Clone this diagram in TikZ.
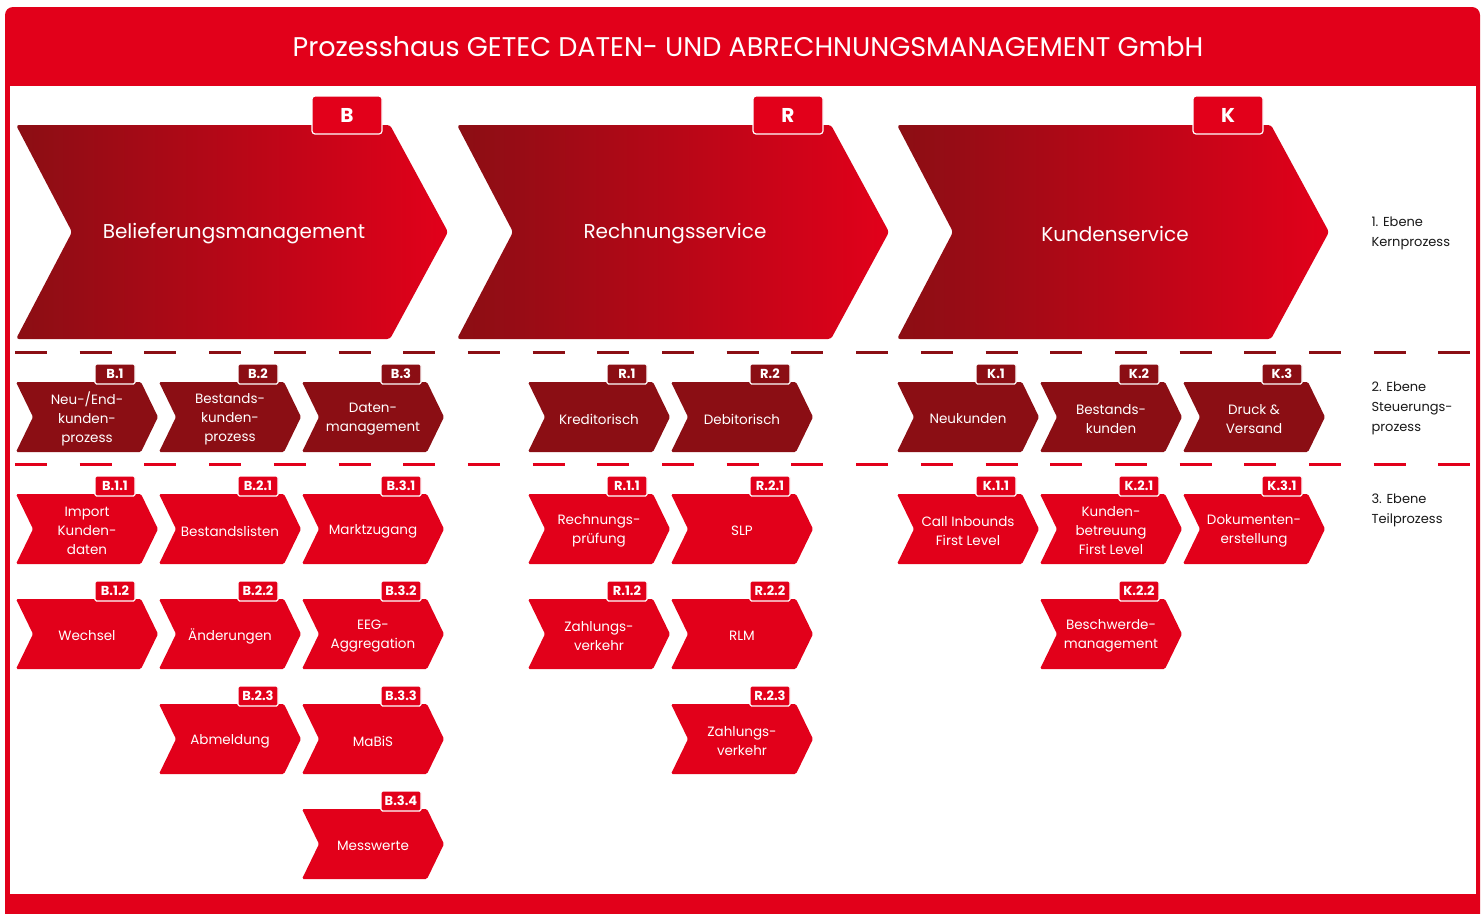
\documentclass[tikz,border=0pt]{standalone}
\usepackage{fontspec}
\setmainfont{Poppins}
\usepackage{tikz}
\usetikzlibrary{positioning}
\definecolor{getecred}{HTML}{E2001A}
\definecolor{getecdark}{HTML}{8B0E14}

\begin{document}
\begin{tikzpicture}[x=1pt, y=-1pt,
    kern/.style = {text=white, font=\fontsize{20}{24}\selectfont},
    schritt/.style = {text=white, align=center, font=\fontsize{13.5}{19}\selectfont},
    tagbox/.style = {draw=white, line width=1.2pt, text=white, minimum width=40pt, minimum height=20pt, inner sep=0pt, rounded corners=1.5pt, font=\bfseries\fontsize{13}{14}\selectfont},
    bigtag/.style = {tagbox, minimum width=70pt, minimum height=38pt, rounded corners=3pt, font=\bfseries\fontsize{20}{22}\selectfont},
    ebene/.style = {align=left, anchor=west, text=black!90, font=\fontsize{13}{20}\selectfont},
    trenner/.style = {line width=3pt, dash pattern=on 32pt off 32.7pt}
]
\useasboundingbox (0,0) rectangle (1483,913);
\fill[getecred, rounded corners=8pt] (5,7) rectangle (1480,930);
\fill[white] (10,86) rectangle (1476,894);
\node (titel) [text=white, font=\fontsize{27}{30}\selectfont] at (748,47) {Prozesshaus GETEC DATEN- UND ABRECHNUNGSMANAGEMENT GmbH};

\foreach \n/\x/\t/\txt in {beliefer/16/B/Belieferungsmanagement, rechnung/457/R/Rechnungsservice, kunden/897/K/Kundenservice} {
    \shade[left color=getecdark, right color=getecred, rounded corners=3pt] (\x,125) -- (\x+374,125) -- (\x+432,232) -- (\x+374,339) -- (\x,339) -- (\x+56,232) -- cycle;
    \node (\n) [kern] at (\x+218,234) {\txt};
    \node (\n-tag) [bigtag, fill=getecred] at (\x+331,115) {\t};
}

\draw[trenner, getecdark] (15,352) -- (1470,352);
\draw[trenner, getecred] (15,464) -- (1470,464);

\foreach \n/\x/\t/\txt in {b1/16/B.1/{Neu-\slash End-\\kunden-\\prozess}, b2/159/B.2/{Bestands-\\kunden-\\prozess}, b3/302/B.3/{Daten-\\management},
        r1/528/R.1/Kreditorisch, r2/671/R.2/Debitorisch,
        k1/897/K.1/Neukunden, k2/1040/K.2/{Bestands-\\kunden}, k3/1183/K.3/{Druck \&\\Versand}} {
    \fill[getecdark, rounded corners=1.5pt] (\x,382) -- (\x+125,382) -- (\x+142,417) -- (\x+125,452) -- (\x,452) -- (\x+17,417) -- cycle;
    \node (\n) [schritt] at (\x+71,419) {\txt};
    \node (\n-tag) [tagbox, fill=getecdark] at (\x+99,374) {\t};
}

\foreach \n/\x/\y/\t/\txt in {b11/16/494/B.1.1/{Import\\Kunden-\\daten}, b12/16/599/B.1.2/Wechsel,
        b21/159/494/B.2.1/Bestandslisten, b22/159/599/B.2.2/Änderungen, b23/159/704/B.2.3/Abmeldung,
        b31/302/494/B.3.1/Marktzugang, b32/302/599/B.3.2/{EEG-\\Aggregation}, b33/302/704/B.3.3/MaBiS, b34/302/809/B.3.4/Messwerte,
        r11/528/494/R.1.1/{Rechnungs-\\prüfung}, r12/528/599/R.1.2/{Zahlungs-\\verkehr},
        r21/671/494/R.2.1/SLP, r22/671/599/R.2.2/RLM, r23/671/704/R.2.3/{Zahlungs-\\verkehr},
        k11/897/494/K.1.1/{Call Inbounds\\First Level},
        k21/1040/494/K.2.1/{Kunden-\\betreuung\\First Level}, k22/1040/599/K.2.2/{Beschwerde-\\management},
        k31/1183/494/K.3.1/{Dokumenten-\\erstellung}} {
    \fill[getecred, rounded corners=1.5pt] (\x,\y) -- (\x+125,\y) -- (\x+142,\y+35) -- (\x+125,\y+70) -- (\x,\y+70) -- (\x+17,\y+35) -- cycle;
    \node (\n) [schritt] at (\x+71,\y+37) {\txt};
    \node (\n-tag) [tagbox, fill=getecred] at (\x+99,\y-8) {\t};
}

\node (ebene1) [ebene] at (1368,233) {1. Ebene\\Kernprozess};
\node (ebene2) [ebene] at (1368,408) {2. Ebene\\Steuerungs-\\prozess};
\node (ebene3) [ebene] at (1368,510) {3. Ebene\\Teilprozess};
\end{tikzpicture}
\end{document}
